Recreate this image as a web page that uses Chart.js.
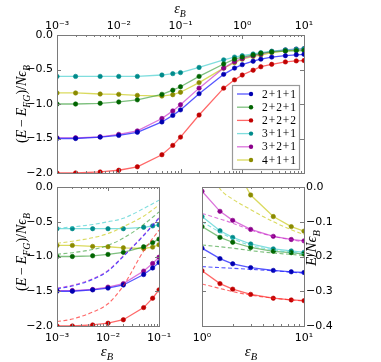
<!DOCTYPE html>
<html>
<head>
<meta charset="utf-8">
<script src="https://cdn.jsdelivr.net/npm/chart.js@4.4.1/dist/chart.umd.min.js"></script>
<style>
html, body { margin: 0; padding: 0; background: #fff; }
#wrap { position: relative; width: 381px; height: 362px; overflow: hidden; }
canvas { position: absolute; }
</style>
</head>
<body>
<div id="wrap">
  <canvas id="cTop" width="381" height="180" style="left:0;top:0;width:381px;height:180px"></canvas>
  <canvas id="cLow" width="200" height="182" style="left:0;top:180px;width:200px;height:182px"></canvas>
  <canvas id="cHigh" width="191" height="182" style="left:190px;top:180px;width:191px;height:182px"></canvas>
</div>
<script>
// --- data ---
const seriesNames = ['2+1+1', '2+2+1', '2+2+2', '3+1+1', '3+2+1', '4+1+1'];

// eps_B grid of the computed points
const epsB = [0.001, 0.002, 0.005, 0.01, 0.02, 0.05, 0.075, 0.1, 0.2, 0.5, 0.75, 1, 1.5, 2, 3, 5, 7.5, 10];

// (E - E_FG)/N eps_B, top panel (and bottom-left up to 0.1)
const dE211 = [-1.50, -1.50, -1.48, -1.455, -1.41, -1.26, -1.165, -1.085, -0.85, -0.57, -0.48, -0.43, -0.38, -0.35, -0.32, -0.30, -0.287, -0.28];
const dE221 = [-1.00, -1.00, -0.99, -0.97, -0.94, -0.86, -0.80, -0.75, -0.60, -0.42, -0.35, -0.32, -0.29, -0.265, -0.245, -0.232, -0.228, -0.225];
const dE222 = [-2.00, -2.00, -1.985, -1.96, -1.91, -1.735, -1.60, -1.48, -1.16, -0.77, -0.65, -0.58, -0.51, -0.46, -0.425, -0.39, -0.375, -0.37];
const dE311 = [-0.60, -0.60, -0.60, -0.60, -0.60, -0.58, -0.56, -0.545, -0.47, -0.36, -0.32, -0.30, -0.275, -0.255, -0.235, -0.215, -0.205, -0.197];
const dE321 = [-1.49, -1.49, -1.475, -1.44, -1.39, -1.21, -1.10, -1.01, -0.77, -0.48, -0.385, -0.34, -0.30, -0.275, -0.24, -0.217, -0.205, -0.20];
const dE411 = [-0.84, -0.84, -0.855, -0.86, -0.875, -0.885, -0.865, -0.83, -0.69, -0.48, -0.40, -0.35, -0.31, -0.29, -0.255, -0.23, -0.215, -0.207];

// small eps_B: dashed approximation curves
const epsLow = [0.001, 0.002, 0.005, 0.01, 0.02, 0.05, 0.1];
const apLow211 = [-1.465, -1.425, -1.33, -1.21, -1.00, -0.70, -0.45];
const apLow221 = [-0.968, -0.945, -0.90, -0.84, -0.735, -0.54, -0.36];
const apLow222 = [-1.938, -1.90, -1.80, -1.68, -1.42, -0.92, -0.62];
const apLow311 = [-0.594, -0.575, -0.54, -0.50, -0.45, -0.31, -0.19];
const apLow321 = [-1.455, -1.415, -1.32, -1.20, -0.99, -0.69, -0.44];
const apLow411 = [-0.81, -0.78, -0.73, -0.67, -0.57, -0.42, -0.26];

// large eps_B: E/N eps_B, computed points and dashed curves
const epsHigh = [1, 1.5, 2, 3, 5, 7.5, 10];
const eN211 = [-0.176, -0.206, -0.221, -0.232, -0.240, -0.244, -0.246];
const eN221 = [-0.114, -0.145, -0.159, -0.174, -0.185, -0.189, -0.193];
const eN222 = [-0.241, -0.278, -0.294, -0.309, -0.320, -0.325, -0.327];
const eN311 = [-0.085, -0.126, -0.145, -0.164, -0.178, -0.184, -0.188];
const eN321 = [-0.012, -0.070, -0.096, -0.122, -0.142, -0.151, -0.155];
const eN411 = [0.37, 0.17, 0.07, -0.023, -0.085, -0.114, -0.127];
const apHigh211 = [-0.229, -0.232, -0.234, -0.237, -0.241, -0.245, -0.248];
const apHigh221 = [-0.167, -0.172, -0.176, -0.183, -0.190, -0.194, -0.197];
const apHigh222 = [-0.279, -0.292, -0.301, -0.311, -0.320, -0.325, -0.328];
const apHigh311 = [-0.100, -0.130, -0.149, -0.168, -0.181, -0.188, -0.192];
const apHigh321 = [-0.076, -0.092, -0.104, -0.124, -0.142, -0.152, -0.158];
const apHigh411 = [0.10, -0.005, -0.035, -0.065, -0.100, -0.123, -0.137];

// ticks
const xTicksTop = [1e-3, 1e-2, 1e-1, 1, 10];
const xTicksLow = [1e-3, 1e-2, 1e-1];
const xTicksHigh = [1, 10];
const yTicksTop = [-2, -1.5, -1, -0.5, 0];
const yTicksHigh = [-0.4, -0.3, -0.2, -0.1, 0];

// --- styles ---
const lineCols = ['rgba(30,30,255,0.75)', 'rgba(40,150,40,0.6)', 'rgba(255,40,40,0.7)', 'rgba(60,205,205,0.65)', 'rgba(200,40,200,0.65)', 'rgba(205,205,40,0.75)'];
const markCols = ['#0000b0', '#006400', '#c00000', '#008b8b', '#8b008b', '#8b8b00'];
const tickFont = { family: 'DejaVu Sans', size: 11 };
const supMap = { '-': '⁻', '0': '⁰', '1': '¹', '2': '²', '3': '³' };

function powLabel(v) {
    const p = String(Math.round(Math.log10(v)));
    return '10' + p.split('').map(c => supMap[c]).join('');
}
function numLabel(v) {
    return Math.abs(v) < 1e-9 ? '0.0' : v.toFixed(1).replace('-', '\u2212');
}
function pts(xs, ys) {
    return xs.map((x, i) => ({ x: x, y: ys[i] }));
}

function solidSet(xs, ys, i) {
    return {
        data: pts(xs, ys), borderColor: lineCols[i], borderWidth: 1.3,
        pointRadius: 2.2, pointBackgroundColor: markCols[i], pointBorderColor: markCols[i],
        pointBorderWidth: 0.6, tension: 0
    };
}
function dashSet(xs, ys, i) {
    return {
        data: pts(xs, ys), borderColor: lineCols[i], borderWidth: 1.1, borderDash: [4, 2.5],
        pointRadius: 0, cubicInterpolationMode: 'monotone'
    };
}

// math-like text with subscripts: parts = [text, italic, sub]
function mathText(ctx, parts, x, y, size, rot) {
    ctx.save();
    ctx.translate(x, y);
    ctx.rotate(rot);
    const fontOf = p => (p[1] ? 'italic ' : '') + (p[2] ? size * 0.7 : size) + 'px "Liberation Serif"';
    let w = 0;
    parts.forEach(p => { ctx.font = fontOf(p); w += ctx.measureText(p[0]).width; });
    let cx = -w / 2;
    ctx.fillStyle = '#000';
    ctx.textBaseline = 'alphabetic';
    parts.forEach(p => {
        ctx.font = fontOf(p);
        ctx.fillText(p[0], cx, p[2] ? size * 0.25 : 0);
        cx += ctx.measureText(p[0]).width;
    });
    ctx.restore();
}

const epsTitle = [['ε', true, false], ['B', true, true]];
const dETitle = [['(', false, false], ['E', true, false], ['\u2009\u2212\u2009', false, false], ['E', true, false], ['FG', true, true],
    [')/', false, false], ['N', true, false], ['ϵ', true, false], ['B', true, true]];
const eNTitle = [['E', true, false], ['/', false, false], ['N', true, false], ['ϵ', true, false], ['B', true, true]];

// frame + inward ticks (matplotlib look)
const frameTicks = {
    id: 'frameTicks',
    afterDatasetsDraw(chart) {
        const { ctx, chartArea: a, scales: { x, y } } = chart;
        ctx.save();
        ctx.strokeStyle = '#7a7a7a';
        ctx.lineWidth = 1;
        ctx.beginPath();
        const lo = Math.round(Math.log10(x.min)), hi = Math.round(Math.log10(x.max));
        for (let d = lo; d <= hi; d++) {
            for (let m = 1; m < 10; m++) {
                const v = m * Math.pow(10, d);
                if (v < x.min * 0.999 || v > x.max * 1.001) continue;
                const px = Math.round(x.getPixelForValue(v)) + 0.5;
                const len = m === 1 ? 4 : 2;
                ctx.moveTo(px, a.top); ctx.lineTo(px, a.top + len);
                ctx.moveTo(px, a.bottom); ctx.lineTo(px, a.bottom - len);
            }
        }
        y.ticks.forEach(t => {
            const py = Math.round(y.getPixelForValue(t.value)) + 0.5;
            ctx.moveTo(a.left, py); ctx.lineTo(a.left + 4, py);
            ctx.moveTo(a.right, py); ctx.lineTo(a.right - 4, py);
        });
        ctx.stroke();
        ctx.strokeRect(Math.round(a.left) + 0.5, Math.round(a.top) + 0.5, Math.round(a.right - a.left), Math.round(a.bottom - a.top));
        ctx.restore();
    }
};

const titles = {
    id: 'titles',
    afterDraw(chart, args, opts) {
        (opts.items || []).forEach(t => mathText(chart.ctx, t.parts, t.x, t.y, t.size, t.rot || 0));
    }
};

const legendBox = {
    id: 'legendBox',
    afterDraw(chart, args, opts) {
        if (!opts.show) return;
        const ctx = chart.ctx;
        ctx.save();
        ctx.fillStyle = '#fff';
        ctx.fillRect(232.5, 85.5, 67, 84);
        ctx.strokeStyle = '#999';
        ctx.lineWidth = 1.2;
        ctx.strokeRect(232.5, 85.5, 67, 84);
        seriesNames.forEach((name, i) => {
            const yy = 94 + i * 13.2;
            ctx.strokeStyle = lineCols[i];
            ctx.lineWidth = 1.3;
            ctx.beginPath(); ctx.moveTo(237, yy); ctx.lineTo(252, yy); ctx.stroke();
            ctx.fillStyle = markCols[i];
            ctx.beginPath(); ctx.arc(251, yy, 2.2, 0, Math.PI * 2); ctx.fill();
            ctx.fillStyle = '#000';
            ctx.font = '11.5px "Liberation Serif"';
            ctx.textBaseline = 'middle';
            ctx.fillText(name.split('+').join('\u200a+\u200a'), 262, yy + 0.5);
        });
        ctx.restore();
    }
};

function logX(min, max, pos, ticks, h, pad) {
    return {
        type: 'logarithmic', position: pos, min: min, max: max,
        grid: { display: false, drawTicks: false }, border: { display: false },
        afterBuildTicks: s => { s.ticks = ticks.map(v => ({ value: v })); },
        afterFit: s => { s.height = h; s.paddingLeft = 0; s.paddingRight = 0; },
        ticks: { autoSkip: false, maxRotation: 0, padding: pad, font: tickFont, color: '#000', callback: v => powLabel(v) }
    };
}
function linY(min, max, pos, ticks, w, pad) {
    return {
        type: 'linear', position: pos, min: min, max: max,
        grid: { display: false, drawTicks: false }, border: { display: false },
        afterBuildTicks: s => { s.ticks = ticks.map(v => ({ value: v })); },
        afterFit: s => { s.width = w; s.paddingTop = 0; s.paddingBottom = 0; },
        ticks: { padding: pad, font: tickFont, color: '#000', callback: v => numLabel(v) }
    };
}

const baseOpts = {
    responsive: false, animation: false, devicePixelRatio: 1
};

function makeChart(id, datasets, scales, padding, titleItems, showLegend) {
    return new Chart(document.getElementById(id), {
        type: 'line',
        data: { datasets: datasets },
        options: Object.assign({}, baseOpts, {
            layout: { padding: padding },
            scales: scales,
            plugins: {
                legend: { display: false }, tooltip: { enabled: false },
                titles: { items: titleItems },
                legendBox: { show: !!showLegend }
            }
        }),
        plugins: [frameTicks, titles, legendBox]
    });
}

const dEAll = [dE211, dE221, dE222, dE311, dE321, dE411];
const apLowAll = [apLow211, apLow221, apLow222, apLow311, apLow321, apLow411];
const eNAll = [eN211, eN221, eN222, eN311, eN321, eN411];
const apHighAll = [apHigh211, apHigh221, apHigh222, apHigh311, apHigh321, apHigh411];
const nLow = epsB.filter(v => v <= 0.1).length;

// top panel
makeChart('cTop',
    dEAll.map((ys, i) => solidSet(epsB, ys, i)),
    { x: logX(1e-3, 10, 'top', xTicksTop, 35, 2), y: linY(-2, 0, 'left', yTicksTop, 57, 4) },
    { left: 0, right: 77, top: 0, bottom: 7 },
    [
        { parts: epsTitle, x: 180, y: 13, size: 14 },
        { parts: dETitle, x: 26, y: 104, size: 14, rot: -Math.PI / 2 }
    ],
    true
);

// bottom-left panel
makeChart('cLow',
    apLowAll.map((ys, i) => dashSet(epsLow, ys, i))
        .concat(dEAll.map((ys, i) => solidSet(epsB.slice(0, nLow), ys.slice(0, nLow), i))),
    { x: logX(1e-3, 0.1, 'bottom', xTicksLow, 36, 6), y: linY(-2, 0, 'left', yTicksTop, 57, 4) },
    { left: 0, right: 41, top: 7, bottom: 0 },
    [
        { parts: epsTitle, x: 107, y: 176, size: 15 },
        { parts: dETitle, x: 26, y: 72, size: 14, rot: -Math.PI / 2 }
    ]
);

// bottom-right panel
makeChart('cHigh',
    apHighAll.map((ys, i) => dashSet(epsHigh, ys, i))
        .concat(eNAll.map((ys, i) => solidSet(epsHigh, ys, i))),
    { x: logX(1, 10, 'bottom', xTicksHigh, 36, 6), y: linY(-0.4, 0, 'right', yTicksHigh, 77, 2) },
    { left: 12, right: 0, top: 7, bottom: 0 },
    [
        { parts: epsTitle, x: 61, y: 176, size: 15 },
        { parts: eNTitle, x: 126, y: 68, size: 15, rot: -Math.PI / 2 }
    ]
);
</script>
</body>
</html>
